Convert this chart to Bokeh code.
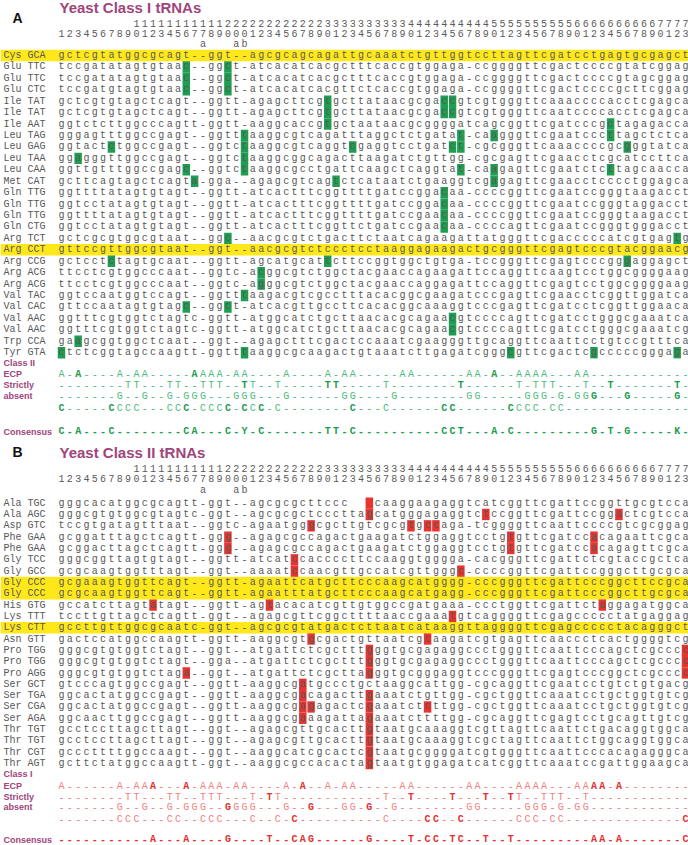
from bokeh.plotting import figure
from bokeh.models import Range1d
from bokeh.layouts import column
from bokeh.embed import file_html
from bokeh.resources import INLINE
from bokeh.core.properties import value

# ---------------- data ----------------
POSITIONS = ["1", "2", "3", "4", "5", "6", "7", "8", "9", "10", "11", "12", "13", "14", "15", "16", "17",
             "17a", "18", "19", "20", "20a", "20b", "21", "22", "23", "24", "25", "26", "27", "28", "29",
             "30", "31", "32", "33", "34", "35", "36", "37", "38", "39", "40", "41", "42", "43", "44",
             "45", "46", "47", "48", "49", "50", "51", "52", "53", "54", "55", "56", "57", "58", "59",
             "60", "61", "62", "63", "64", "65", "66", "67", "68", "69", "70", "71", "72", "73"]

A_NAMES = ["Cys GCA", "Glu TTC", "Glu TTC", "Glu CTC", "Ile TAT", "Ile TAT", "Ile AAT", "Leu TAG",
           "Leu GAG", "Leu TAA", "Leu CAA", "Met CAT", "Gln TTG", "Gln TTG", "Gln TTG", "Gln CTG",
           "Arg TCT", "Arg CCT", "Arg CCG", "Arg ACG", "Arg ACG", "Val TAC", "Val CAC", "Val AAC",
           "Val AAC", "Trp CCA", "Tyr GTA"]
A_SEQS = [
    "gctcgtatggcgcagt--ggt--agcgcagcagat" "tgcaaatctgttggtccttagttcgatcctgagtgcgagct",
    "tccgatatagtgtaac--ggct-atcacatcacgc" "tttcaccgtggaga-ccggggttcgactccccgtatcggag",
    "tccgatatagtgtaac--ggct-atcacatcacgc" "tttcaccgtggaga-ccggggttcgactccccgtagcggag",
    "tccgatgtagtgtaac--ggct-atcacatcacgt" "tctcaccgtggaga-ccggggttcgactccccgcttcggag",
    "gctcgtgtagctcagt--ggtt-agagcttcgtgc" "ttataacgcgaccgtcgtgggttcaaaccccacctcgagca",
    "gctcgtgtagctcagt--ggtt-agagcttcgtgc" "ttataacgcgaccgtcgtgggttcaatccccacctcgagca",
    "ggtctcttggcccagtt-ggtt-aaggcaccgtgc" "taataacgcggggatcagcggttcgatcccgctagagacca",
    "gggagtttggccgagt--ggtttaaggcgtcagat" "ttaggctctgatat-caagggttcgaatcccttagctctca",
    "ggtactctggccgagt--ggtctaaggcgtcaggt" "cgaggtcctgatct-cgcgggttcaaaccccgcgggtatca",
    "ggagggttggccgagt--ggtctaaggcggcagac" "ttaagatctgttgg-cgcgagttcgaacctcgcatccttca",
    "ggttgtttggccgagc--ggtctaaggcgcctgat" "tcaagctcaggtat-caagagttcgaatctcttagcaacca",
    "gcttcagtagctcagta-gga--agagcgtcagtc" "tcataatctgaaggtcgagagttcgaacctcccctggagca",
    "ggttttatagtgtagt--ggtt-atcactttcggt" "tttgatccggacaa-ccccggttcgaatccgggtaagacct",
    "ggtcctatagtgtagt--ggtt-atcactttcggt" "tttgatccggacaa-ccccggttcgaatccgggtaggacct",
    "ggttttatagtgtagt--ggtt-atcactttcggt" "tttgatccgaacaa-ccccggttcgaatccgggtaagacct",
    "ggtcctatagtgtagt--ggtt-atcactttcggt" "tctgatccgaacaa-ccccagttcgaatccgggtgggacct",
    "gctcgcgtggcgtaat--ggc--aacgcgtctgac" "ttctaatcagaagattatgggttcgacccccatcgtgagtg",
    "gttccgttggcgtaat--ggt--aacgcgtctccc" "tcctaaggagaagactgcgggttcgagtcccgtacggaacg",
    "gctcctctagtgcaat--ggtt-agcatgcattct" "tccggtggctgtga-tccgggttcgagtcccgggaggagct",
    "ttcctcgtggcccaat--ggtc-acggcgtctggc" "tacgaaccagaagattccaggttcaagtcctggcggggaag",
    "ttcctcgtggcccaat--ggtc-agggcgtctggc" "tacgaaccaggagattccaggttcgagtcctggcggggaag",
    "ggtccaatggtccagt--ggtttaagacgtcgcct" "ttacacggcgaagatcccgagttcgaacctcggttggatca",
    "gttccaatagtgtagc--ggct-atcacgttgcct" "tcacacggcaaaggtcccgagttcgatcctcggttggaaca",
    "ggtttcgtggtctagtc-ggtt-atggcatctgct" "taacacgcagaacgtccccagttcgatcctgggcgaaatca",
    "ggtttcgtggtctagtc-ggtt-atggcatctgct" "taacacgcagaacgtccccagttcgatcctgggcgaaatcg",
    "gaagcggtggctcaat--ggt--agagctttcgac" "tccaaatcgaagggttgcaggttcaattcctgtccgtttca",
    "ctctcggtagccaagtt-ggtttaaggcgcaagac" "tgtaaatcttgagatcgggcgttcgactcgcccccgggaga",
]
A_YELLOW = [0, 17]
A_MARKS = [[], [15, 20], [15, 20], [15, 20], [32, 46, 47], [32, 46, 47], [32, 66], [22, 48, 52, 66],
           [6, 22, 35, 47, 48, 68], [2, 22], [15, 22, 48, 52, 66], [16, 33, 52], [46], [46], [46], [46],
           [20, 74], [], [6, 32, 68], [24], [24], [22], [15, 20], [47], [47], [2], [0, 22, 54, 64, 74]]
A_ECP = [
    "A-A----A-AA-----AAAA-AA----A----A-AA-----AA------AA-A--AAAA---AA------------",
    "--------TT---TT--TTT--TT--T-----TT-----T--------T------T-TTT---T--T-------T-",
    "-------G--G--G-GGG---GGG---G------GG----G--------GG-----GGG-G-GGG---G-----G-",
    "C-----CCCC---CCC-CCCC-CCC-C--------C---C------CC------CCCC-CC---------------",
]
A_ECP_BOLD = [[2, 16, 52], [22, 32, 33, 48, 66, 74], [64, 68, 74], [0, 6, 15, 20, 22, 24, 35, 46, 47, 54]]
A_CONSENSUS = "C-A---C--------CA---C-Y-C-------TT-C----------CCT---A-C---------G-T-G-----K-"

B_NAMES = ["Ala TGC", "Ala AGC", "Asp GTC", "Phe GAA", "Phe GAA", "Gly TCC", "Gly GCC", "Gly CCC",
           "Gly CCC", "His GTG", "Lys TTT", "Lys CTT", "Asn GTT", "Pro TGG", "Pro TGG", "Pro AGG",
           "Ser GCT", "Ser TGA", "Ser CGA", "Ser AGA", "Thr TGT", "Thr TGT", "Thr CGT", "Thr AGT"]
B_SEQS = [
    "gggcacatggcgcagtt-ggt--agcgcgcttccc" "   caaggaagaggtcatcggttcgattccggttgcgtcca",
    "gggcgtgtggcgtagtc-ggt--agcgcgctccct" "tagcatgggagaggtctccggttcgattccggactcgtcca",
    "tccgtgatagtttaat--ggtc-agaatgggcgct" "tgtcgcgtgccaga-tcggggttcaattccccgtcgcggag",
    "gcggatttagctcagtt-ggg--agagcgccagac" "tgaagatctggaggtcctgtgttcgatccacagaattcgca",
    "gcggacttagctcagtt-ggg--agagcgccagac" "tgaagatctggaggtcctgtgttcgatccacagagttcgca",
    "gggcggttagtgtagt--ggtt-atcatccacccc" "ttccaaggtgggga-cacgggttcgattctcgtaccgctca",
    "gcgcaagtggtttagt--ggt--aaaatccaacgt" "tgccatcgttgggc-ccccggttcgattccgggcttgcgca",
    "gcgaaagtggttcagt--ggtt-agaattcatgct" "tcccaagcatgggg-cccgggttcgattcccggcttccgca",
    "gcgcaagtggttcagt--ggtt-agaatttatgct" "tcccaagcatgagg-cccgggttcgattcccggcttgcgca",
    "gccatcttagtatagt--ggtt-agtacacatcgt" "tgtggccgatgaaa-ccctggttcgattctaggagatggca",
    "tccttgttagctcagtt-ggt--agagcgttcggc" "ttttaaccgaaatgtcaggggttcgagccccctatgaggag",
    "gccttgttggcgcaatc-ggt--agcgcgtatgac" "tcttaatcataaggttaggggttcgagccccctacagggct",
    "gactccatggccaagtt-ggtt-aaggcgtgcgac" "tgttaatcgcaagatcgtgagttcaaccctcactggggtcg",
    "gggcgtgtggtctagt--ggt--atgattctcgct" "ttgggtgcgagaggccctgggttcaattcccagctcgcccc",
    "gggcgtgtggtctagt--gga--atgattctcgct" "ttgggtgcgagaggccctgggttcaattcccagctcgcccc",
    "gggcgtgtggtctaga--ggt--atgattctcgct" "tagggtgcgggaggtcccgggttcgagtcccggctcgcccc",
    "gtcccagtggccgagt--ggtt-aaggcgatgccc" "tgctaaggcattgg-cgcaggttcgaatcctgtctgtgacg",
    "ggcactatggccgagt--ggtt-aaggcgacagac" "ttgaaatctgttgg-cgctggttcaaatcctgctggtgtcg",
    "ggcactatggccgagt--ggtt-aaggcgagagac" "tcgaaatctcttgg-cgctggttcaaatcctgctggtgtcg",
    "ggcaacttggccgagt--ggtt-aaggcgaaagat" "tagaaatcttttgg-cgcaggttcgagtcctgcagttgtcg",
    "gcctccttagcttagt--ggt--agagcgttgcac" "ttgtaatgcaaaggtcgttagttcaattctgacaggtggca",
    "gcctccttagcttagt--ggt--agagcgttgcac" "ttgtaatgcaaaggtcgctagttcaattctggcaggtggca",
    "gcccttttggccaagt--ggt--aaggcatcgcac" "tcgtaatgcggggatcgtgggttcaattcccacagagggca",
    "gcttctatggccaagtt-ggt--aaggcgccacac" "tagtaatgtggagatcatcggttcaaatccgattggaagca",
]
B_YELLOW = [7, 8, 11]
B_MARKS = [[37], [37, 51, 67], [30, 42, 44, 45], [20, 54, 64], [20, 54, 64], [28], [28, 48], [], [],
           [11, 25, 65], [47], [], [30, 44], [37, 75], [37, 75], [15, 37, 75], [29], [29, 37],
           [29, 30, 37, 44], [29, 37], [37], [37], [37], [37]]
B_ECP = [
    "A------A-AAA---A-AAA-AA----A-A--A-AA-----AA------AA----AAAA---AAAA-A--------",
    "--------TT---TT--TTT---T-TT------------T--T----T---T--TT--TTT--T------------",
    "-------G--G--G-GGG--GGGG---G--G---GG-G--G--------GG-----GGG-G-GG------------",
    "-------CCC---CC--CCC---C--C-C----------C----CC--C------CCC-CC--------------C",
]
B_ECP_BOLD = [[11, 15, 29, 64, 65, 67], [25, 42, 47, 51, 54], [20, 30, 37], [28, 44, 45, 48, 75]]
B_CONSENSUS = "-----------A---A----G----T--CAG------G----T-CC-TC--T--T---------AA-A-------C"

ECP_LABELS = ["ECP", "Strictly", "absent"]

# ---------------- styling ----------------
PURPLE = "#A0457B"
YELLOW = "#FFE81A"
SEQ_COLOR = "#585858"
HDR_COLOR = "#5a5a5a"
MONO = "Liberation Mono"
SANS = "Liberation Sans"
FIG_W = 688
COL_PX = 8.32
GRID_X0 = 61
X0 = -GRID_X0 / COL_PX
X1 = X0 + FIG_W / COL_PX
NAME_X = X0 + 3.0 / COL_PX
LETTER_X = X0 + 17.0 / COL_PX
TITLE_X = X0 + 59.0 / COL_PX


def header_parts(label):
    digits = label.rstrip("ab")
    suffix = label[len(digits):]
    tens = digits[-2] if len(digits) > 1 else ""
    return tens, digits[-1], suffix


def char_cells(strings, rows, only=None, skip=None):
    xs, ys, ts = [], [], []
    for k, (s, r) in enumerate(zip(strings, rows)):
        for c, ch in enumerate(s):
            if ch == " ":
                continue
            if only is not None and c not in only[k]:
                continue
            if skip is not None and c in skip[k]:
                continue
            xs.append(c)
            ys.append(r)
            ts.append(ch)
    return xs, ys, ts


def build_panel(letter, title, names, seqs, yellow_rows, marks, mark_color, class_label,
                ecp, ecp_bold, consensus, light, dark, height, row0_px, pitch_px,
                hdr_y, title_y, letter_y, lab_off, ecp_off, cons_off):
    y_top = -row0_px / pitch_px
    y_bot = y_top + height / pitch_px
    p = figure(width=FIG_W, height=height, x_range=Range1d(X0, X1), y_range=Range1d(y_bot, y_top),
               output_backend="svg", toolbar_location=None, min_border=0)
    p.axis.visible = False
    p.xgrid.visible = False
    p.ygrid.visible = False
    p.outline_line_color = None
    n = len(names)

    p.hbar(y=yellow_rows, left=X0, right=X1, height=1.0, fill_color=YELLOW, line_color=None)

    mx, my = [], []
    for r, cols in enumerate(marks):
        for c in cols:
            mx.append(c)
            my.append(r)
    p.rect(x=mx, y=my, width=0.9, height=1.0, fill_color=mark_color, line_color=None)

    sx, sy, st = char_cells(seqs, list(range(n)))
    p.text(x=sx, y=sy, text=st, text_font=value(MONO), text_font_size="10px", text_color=SEQ_COLOR,
           text_align="center", text_baseline="middle")

    p.text(x=[NAME_X] * n, y=list(range(n)), text=names, text_font=value(MONO), text_font_size="10px",
           text_color=SEQ_COLOR, text_align="left", text_baseline="middle")

    parts = [header_parts(s) for s in POSITIONS]
    cols = list(range(len(POSITIONS)))
    for k, yy in enumerate(hdr_y):
        p.text(x=cols, y=[yy] * len(cols), text=[pp[k] for pp in parts], text_font=value(MONO),
               text_font_size="10px", text_color=HDR_COLOR, text_align="center", text_baseline="middle")

    p.text(x=[TITLE_X], y=[title_y], text=[title], text_font=value(SANS), text_font_size="15px",
           text_font_style="bold", text_color=PURPLE, text_align="left", text_baseline="middle")
    p.text(x=[LETTER_X], y=[letter_y], text=[letter], text_font=value(SANS), text_font_size="14px",
           text_font_style="bold", text_color="#111111", text_align="center", text_baseline="middle")

    lab_text = [class_label] + ECP_LABELS + ["Consensus"]
    lab_rows = [n + o for o in lab_off] + [n + cons_off]
    p.text(x=[NAME_X] * len(lab_text), y=lab_rows, text=lab_text, text_font=value(SANS),
           text_font_size="9px", text_font_style="bold", text_color=PURPLE, text_align="left",
           text_baseline="middle")

    ecp_rows = [n + o for o in ecp_off]
    rx, ry, rt = char_cells(ecp, ecp_rows, skip=ecp_bold)
    p.text(x=rx, y=ry, text=rt, text_font=value(MONO), text_font_size="10px", text_color=light,
           text_align="center", text_baseline="middle")
    bx, by, bt = char_cells(ecp, ecp_rows, only=ecp_bold)
    p.text(x=bx, y=by, text=bt, text_font=value(MONO), text_font_size="10px", text_font_style="bold",
           text_color=dark, text_align="center", text_baseline="middle")

    cx, cy, ct = char_cells([consensus], [n + cons_off])
    p.text(x=cx, y=cy, text=ct, text_font=value(MONO), text_font_size="10px", text_font_style="bold",
           text_color=dark, text_align="center", text_baseline="middle")
    return p


pa = build_panel("A", "Yeast Class I tRNAs", A_NAMES, A_SEQS, A_YELLOW, A_MARKS, "#1E9E50",
                 "Class II", A_ECP, A_ECP_BOLD, A_CONSENSUS, "#4DBB7E", "#1C9B50",
                 height=440, row0_px=55.0, pitch_px=11.43,
                 hdr_y=[-2.83, -1.90, -0.96], title_y=-4.2, letter_y=-3.24,
                 lab_off=[-0.14, 0.9, 1.87, 2.83], ecp_off=[0.9, 1.87, 2.83, 3.88], cons_off=5.9)

pb = build_panel("B", "Yeast Class II tRNAs", B_NAMES, B_SEQS, B_YELLOW, B_MARKS, "#E8332F",
                 "Class I", B_ECP, B_ECP_BOLD, B_CONSENSUS, "#F27F7F", "#E33030",
                 height=405, row0_px=62.7, pitch_px=11.32,
                 hdr_y=[-3.04, -2.16, -1.12], title_y=-4.48, letter_y=-4.5,
                 lab_off=[-0.12, 1.0, 1.94, 2.88], ecp_off=[1.0, 1.97, 2.88, 3.94], cons_off=5.72)

layout = column(pa, pb, spacing=0)
open("out.html", "w").write(file_html(layout, INLINE))
